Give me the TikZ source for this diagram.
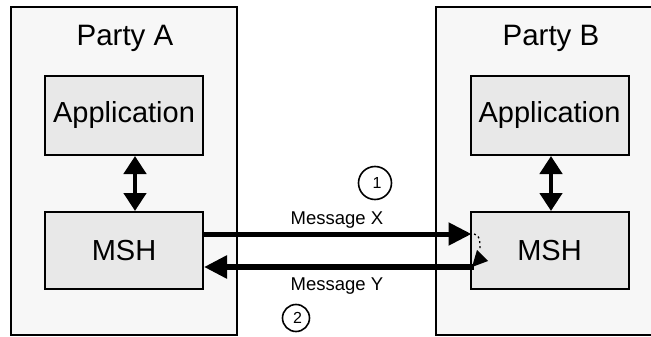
\documentclass[tikz,border=0pt]{standalone}
\usepackage{fontspec}
\setmainfont{Liberation Sans}
\usetikzlibrary{arrows.meta,calc}
\definecolor{partyfill}{HTML}{F7F7F7}
\definecolor{boxfill}{HTML}{E8E8E8}
\begin{document}
\begin{tikzpicture}[x=1pt,y=-1pt,
  party/.style={draw,line width=2pt,fill=partyfill,rectangle,inner sep=0pt},
  comp/.style={draw,line width=2pt,fill=boxfill,rectangle,inner sep=0pt,
    minimum width=158pt,font=\fontsize{29}{31}\selectfont},
  title/.style={anchor=base,font=\fontsize{29.5}{31}\selectfont},
  msg/.style={font=\fontsize{18.5}{20}\selectfont},
  numc/.style={draw,circle,line width=1.6pt,fill=white,inner sep=0pt,
    font=\fontsize{16}{18}\selectfont},
  biarrow/.style={line width=4.5pt,{Triangle[length=18pt,width=22pt]}-{Triangle[length=18pt,width=22pt]}},
  msgarrow/.style={line width=5pt,-{Triangle[length=23pt,width=22pt]}}
]
\useasboundingbox (0,0) rectangle (651,337);
% party containers
\node[party,minimum width=226pt,minimum height=328pt] (partyA) at (124,171) {};
\node[party,minimum width=226pt,minimum height=328pt] (partyB) at (549,171) {};
\node[title] (tA) at (125,46) {Party A};
\node[title] (tB) at (551,46) {Party B};
% components
\node[comp,minimum height=79pt] (appA) at (124,115.5) {Application};
\node[comp,minimum height=77pt] (mshA) at (124,250.5) {MSH};
\node[comp,minimum height=79pt] (appB) at (549.5,115.5) {Application};
\node[comp,minimum height=77pt] (mshB) at (549.5,250.5) {MSH};
% vertical links
\draw[biarrow] ($(appA.south)+(11,0)$) -- ($(mshA.north)+(11,0)$);
\draw[biarrow] ($(appB.south)+(1.5,0)$) -- ($(mshB.north)+(1.5,0)$);
% messages
\draw[msgarrow] ($(mshA.east)+(0,-16.5)$) -- ($(mshB.west)+(2,-16.5)$);
\draw[msgarrow,line width=5.5pt] ($(mshB.west)+(4,16.5)$) -- ($(mshA.east)+(0,16.5)$);
\fill (472,267) -- (477,250) -- (488,261) -- cycle;
\draw[line width=1.3pt,dash pattern=on 2pt off 3pt] (474,234) to[out=0,in=90] (480,249);
\node[msg] (mX) at (337,220) {Message X};
\node[msg] (mY) at (337,286) {Message Y};
\node[numc,minimum size=33pt] (c1) at (375,183) {\hspace{4pt}1};
\node[numc,minimum size=27pt] (c2) at (296,318) {\hspace{3pt}2};
\end{tikzpicture}
\end{document}
